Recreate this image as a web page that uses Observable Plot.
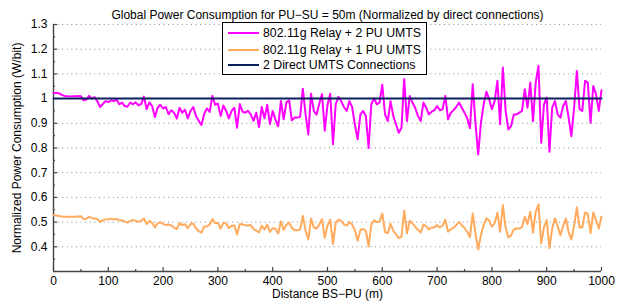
<!DOCTYPE html>
<html><head><meta charset="utf-8">
<script src="https://cdn.jsdelivr.net/npm/d3@7"></script>
<script src="https://cdn.jsdelivr.net/npm/@observablehq/plot@0.6"></script>
<style>
body{margin:0;background:#fff;}
#wrap{position:relative;width:637px;height:308px;font-family:"Liberation Sans",Arial,sans-serif;}
#legend{position:absolute;left:222px;top:22px;width:203px;height:51px;border:1.5px solid #000;background:#fff;font-size:12.3px;color:#000;}
.row{position:absolute;left:5px;height:16px;display:flex;align-items:center;white-space:nowrap;}
.sw{width:31px;height:2px;margin-right:4px;}
</style></head><body><div id="wrap"><div id="legend"></div></div>
<script>
const title = "Global Power Consumption for PU\u2212SU = 50m (Normalized by direct connections)";
const xLabel = "Distance BS\u2212PU (m)";
const yLabel = "Normalized Power Consumption (W/bit)";
const seriesNames = ["802.11g Relay + 2 PU UMTS", "802.11g Relay + 1 PU UMTS", "2 Direct UMTS Connections"];
const seriesColors = ["#ff00ff", "#ffaa5c", "#0b1f5e"];

const xTicks = [0, 100, 200, 300, 400, 500, 600, 700, 800, 900, 1000];
const xMinor = [50, 150, 250, 350, 450, 550, 650, 750, 850, 950];
const yTicks = [0.4, 0.5, 0.6, 0.7, 0.8, 0.9, 1.0, 1.1, 1.2, 1.3];
const yMinor = [0.35, 0.45, 0.55, 0.65, 0.75, 0.85, 0.95, 1.05, 1.15, 1.25];

const step = 5; // distance step (m)
const relay2PU = [1.023,1.023,1.022,1.015,1.011,1.010,1.009,1.010,1.010,1.011,
1.010,0.993,0.996,1.011,1.000,1.006,0.990,0.966,0.978,0.990,
0.986,0.993,0.990,0.996,0.977,0.984,0.970,0.967,0.984,0.977,
0.985,0.973,0.978,1.008,0.957,0.985,0.970,0.925,0.963,0.975,
0.960,0.966,0.937,0.953,0.943,0.919,0.963,0.943,0.955,0.920,
0.950,0.966,0.930,0.910,0.893,0.939,0.960,0.946,1.011,0.975,
0.980,0.930,0.972,0.950,0.920,0.950,0.963,0.882,0.978,0.947,
0.943,0.950,0.936,0.910,0.943,0.885,0.966,0.920,0.975,0.897,
0.950,0.915,0.888,0.991,0.916,0.985,0.993,0.912,0.923,0.923,
0.926,1.040,0.936,0.855,1.020,0.950,0.935,0.980,1.018,0.870,
0.975,1.020,0.815,0.977,1.007,0.990,0.966,0.950,0.990,0.965,
0.894,0.835,0.936,0.950,0.930,0.800,0.977,1.001,0.977,0.984,
1.056,0.936,0.909,0.990,0.930,0.896,0.862,0.882,1.079,0.909,
1.011,0.984,0.963,0.930,0.909,0.984,0.963,0.936,0.947,0.953,
0.970,0.953,0.957,1.011,0.916,0.943,0.953,0.966,0.984,0.963,
0.943,0.920,0.880,1.058,0.902,0.774,0.902,0.977,1.028,0.997,
0.957,0.990,1.072,0.896,1.126,0.950,0.875,0.889,0.936,0.936,
0.943,0.950,1.038,0.963,1.065,0.909,1.065,1.133,0.821,0.977,
1.004,0.785,0.963,0.990,0.936,0.923,0.970,0.990,0.923,0.848,
0.963,1.112,0.957,0.950,1.072,1.065,0.902,1.051,1.018,0.950,
1.034];
const relay1PU = [0.528,0.527,0.525,0.523,0.522,0.522,0.522,0.522,0.522,0.523,
0.524,0.512,0.514,0.521,0.517,0.515,0.512,0.501,0.508,0.511,
0.512,0.514,0.511,0.513,0.507,0.508,0.502,0.498,0.505,0.509,
0.505,0.501,0.505,0.515,0.492,0.505,0.497,0.478,0.495,0.499,
0.493,0.488,0.490,0.486,0.478,0.472,0.496,0.488,0.491,0.475,
0.492,0.494,0.475,0.463,0.457,0.482,0.482,0.490,0.512,0.496,
0.496,0.474,0.497,0.494,0.476,0.485,0.486,0.450,0.492,0.490,
0.487,0.486,0.488,0.472,0.466,0.458,0.486,0.470,0.490,0.460,
0.475,0.473,0.454,0.503,0.468,0.490,0.497,0.477,0.467,0.467,
0.470,0.525,0.466,0.430,0.515,0.478,0.474,0.490,0.512,0.437,
0.486,0.510,0.411,0.497,0.510,0.505,0.491,0.486,0.500,0.490,
0.467,0.424,0.468,0.472,0.465,0.402,0.490,0.507,0.500,0.503,
0.535,0.460,0.455,0.493,0.465,0.450,0.435,0.440,0.546,0.455,
0.505,0.495,0.482,0.468,0.458,0.490,0.483,0.470,0.478,0.478,
0.488,0.478,0.486,0.510,0.461,0.470,0.477,0.488,0.500,0.488,
0.476,0.460,0.440,0.535,0.455,0.389,0.447,0.488,0.515,0.507,
0.482,0.495,0.538,0.461,0.569,0.478,0.438,0.447,0.470,0.474,
0.474,0.480,0.521,0.492,0.542,0.457,0.542,0.572,0.413,0.480,
0.508,0.395,0.474,0.515,0.484,0.447,0.484,0.515,0.460,0.430,
0.484,0.560,0.478,0.478,0.539,0.533,0.455,0.539,0.508,0.474,
0.522];
const directX = [0, 1000];
const directY = [1, 1];

const rows = relay2PU.map((v, i) => ({x: i * step, r2: v, r1: relay1PU[i]}));
const direct = directX.map((x, i) => ({x, y: directY[i]}));

const axisColor = "#444";
const chart = Plot.plot({
  width: 637, height: 308,
  marginLeft: 53, marginRight: 36, marginTop: 24, marginBottom: 37,
  style: {fontFamily: "'Liberation Sans', Arial, sans-serif", fontSize: "12px", background: "white", color: "#000", overflow: "visible"},
  x: {domain: [0, 1000]},
  y: {domain: [0.3, 1.3]},
  marks: [
    Plot.gridY(yTicks, {stroke: "#8a8a8a", strokeOpacity: 1, strokeDasharray: "1,3.6"}),
    Plot.axisX(xTicks, {tickSize: 0, tickPadding: 5, fontSize: 12, label: null, tickFormat: d => String(d)}),
    Plot.axisY(yTicks, {tickSize: 0, tickPadding: 6, fontSize: 12, label: null, tickFormat: d => String(+d.toFixed(1))}),
    Plot.ruleX(xTicks, {y1: 0.3, y2: 0.3, insetBottom: 4, stroke: axisColor, strokeWidth: 1.2}),
    Plot.ruleX(xMinor, {y1: 0.3, y2: 0.3, insetBottom: 2, stroke: axisColor, strokeWidth: 1.2}),
    Plot.ruleY(yTicks, {x1: 0, x2: 0, insetRight: -4, stroke: axisColor, strokeWidth: 1.2}),
    Plot.ruleY(yMinor, {x1: 0, x2: 0, insetRight: -2, stroke: axisColor, strokeWidth: 1.2}),
    Plot.ruleY([0.3], {stroke: axisColor, strokeWidth: 1.4}),
    Plot.ruleX([0], {y1: 0.3, y2: 1.3, stroke: axisColor, strokeWidth: 1.4}),
    Plot.line(rows, {x: "x", y: "r1", stroke: seriesColors[1], strokeWidth: 2}),
    Plot.line(rows, {x: "x", y: "r2", stroke: seriesColors[0], strokeWidth: 2}),
    Plot.line(direct, {x: "x", y: "y", stroke: seriesColors[2], strokeWidth: 2}),
    Plot.text([title], {text: d => d, frameAnchor: "top", dy: -14, fontSize: 12}),
    Plot.text([xLabel], {text: d => d, frameAnchor: "bottom", dy: 26, fontSize: 12}),
    Plot.text([yLabel], {text: d => d, frameAnchor: "left", textAnchor: "middle", dx: -36, rotate: -90, fontSize: 12})
  ]
});
const wrap = document.getElementById("wrap");
wrap.insertBefore(chart, wrap.firstChild);

const legend = document.getElementById("legend");
const rowTops = [2, 18.5, 34];
seriesNames.forEach((name, i) => {
  const r = document.createElement("div");
  r.className = "row";
  r.style.top = rowTops[i] + "px";
  const sw = document.createElement("span");
  sw.className = "sw";
  sw.style.background = seriesColors[i];
  const t = document.createElement("span");
  t.textContent = name;
  r.appendChild(sw); r.appendChild(t);
  legend.appendChild(r);
});
</script>
</body></html>
